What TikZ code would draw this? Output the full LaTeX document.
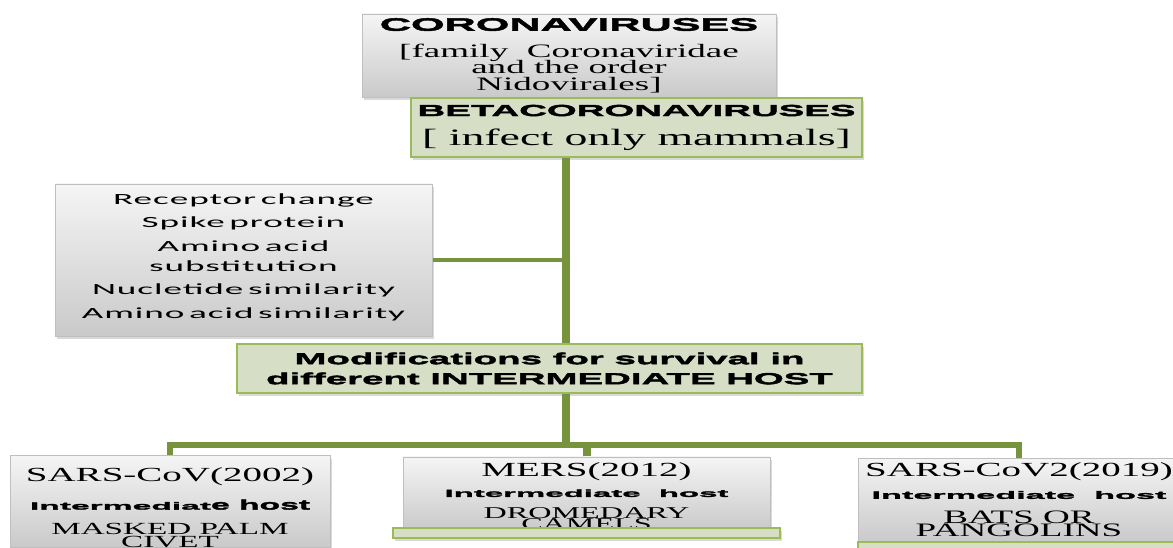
\documentclass[tikz,border=0pt]{standalone}
\usepackage{fontspec}
\usetikzlibrary{positioning,shadows,backgrounds}
\newfontfamily\heavyfont{Liberation Sans}[FakeStretch=2.4,FakeBold=2.5]
\newfontfamily\hostfont{Liberation Sans}[FakeStretch=3.2,FakeBold=2.5]
\newfontfamily\timesfont{Liberation Serif}[FakeStretch=1.95]
\newfontfamily\calfont{Carlito}[FakeStretch=2.4,LetterSpace=6,WordSpace=0.5]
\definecolor{olive}{HTML}{77933C}
\definecolor{leafline}{HTML}{9BBB59}
\definecolor{leaffill}{HTML}{D6DEC5}
\setlength{\lineskiplimit}{-100pt}
\tikzset{
  greybox/.style={draw=gray!50, top color=gray!8, middle color=white, bottom color=gray!42,
    drop shadow={shadow xshift=2pt,shadow yshift=-3pt,opacity=.3}, inner sep=0pt, align=center},
  greenbox/.style={draw=leafline, line width=2.5pt, fill=leaffill,
    drop shadow={shadow xshift=2pt,shadow yshift=-3pt,opacity=.3}, inner sep=0pt, align=center},
  stem/.style={draw=olive, line width=8pt},
  twig/.style={draw=olive, line width=4.5pt},
  busline/.style={draw=olive, line width=6.5pt}
}
\begin{document}
\begin{tikzpicture}[x=1pt,y=-1pt]
\useasboundingbox (0,0) rectangle (1173,548);
\clip (0,0) rectangle (1173,548);
% top of the tree
\node[greybox, minimum width=414pt, minimum height=83pt, font=\timesfont\fontsize{19}{16.5}\selectfont] (corona) at (569,55.5)
  {{\heavyfont\bfseries\fontsize{18}{18}\selectfont CORONAVIRUSES}\\[10pt]{[}family~~Coronaviridae\\and the order\\Nidovirales]};
\node[greenbox, minimum width=451pt, minimum height=59pt, font=\timesfont\fontsize{23.5}{29}\selectfont] (beta) at (636.5,127.5)
  {{\heavyfont\bfseries\fontsize{16}{16}\selectfont BETACORONAVIRUSES}\\{[} infect only mammals]};
% side box and middle box
\node[greybox, minimum width=377pt, minimum height=152pt, font=\calfont\fontsize{15.5}{23.5}\selectfont] (changes) at (243.5,260)
  {Receptor change\\Spike protein\\Amino acid\\[-3.5pt]substitution\\Nucletide similarity\\Amino acid similarity\rule[-8pt]{0pt}{8pt}};
\node[greenbox, minimum width=625pt, minimum height=49pt, font=\heavyfont\bfseries\fontsize{16}{20}\selectfont] (mods) at (549.5,368.5)
  {Modifications for survival in\\different INTERMEDIATE HOST};
% the three hosts
\node[greenbox, minimum width=300pt, minimum height=14pt] (civetbar) at (167,554) {};
\node[greybox, minimum width=320pt, minimum height=87pt, font=\timesfont\fontsize{17}{14}\selectfont] (civet) at (170,501.5)
  {{\fontsize{20}{20}\selectfont\rule{0pt}{26pt}SARS-CoV(2002)}\\[14pt]{\hostfont\bfseries\fontsize{10.5}{10}\selectfont Intermediat{\heavyfont\fontsize{14}{14}\selectfont e host}}\\[11pt]MASKED PALM\\[-1.5pt]CIVET};
\node[greybox, minimum width=367pt, minimum height=69pt, font=\timesfont\fontsize{16.5}{11}\selectfont] (mers) at (586.5,493.5)
  {{\fontsize{20}{20}\selectfont\rule{0pt}{20pt}MERS(2012)}\\[9pt]{\hostfont\bfseries\fontsize{10.3}{10}\selectfont Intermediate~~host}\\[11pt]DROMEDARY\\CAMELS};
\node[greybox, minimum width=322pt, minimum height=84pt, font=\timesfont\fontsize{19}{13}\selectfont] (bats) at (1019,500)
  {{\fontsize{20}{20}\selectfont SARS-CoV2(2019)}\\[9pt]{\hostfont\bfseries\fontsize{10.7}{10}\selectfont Intermediate~~host}\\[12pt]BATS OR\\PANGOLINS};
\node[greenbox, minimum width=387pt, minimum height=10pt] (mersbar) at (586.5,533) {};
\node[greenbox, minimum width=322pt, minimum height=12pt] (batsbar) at (1019,548) {};
\coordinate (hub) at (566,445);
\begin{scope}[on background layer]
\draw[stem] (beta.north -| hub) -- (hub);
\draw[twig] (changes.east) -- (changes.east -| hub);
\draw[busline] (civet.north) |- (bats.north |- hub) -- (bats.north);
\draw[stem] (mers.north) -- (mers.north |- hub);
\end{scope}
\end{tikzpicture}
\end{document}
